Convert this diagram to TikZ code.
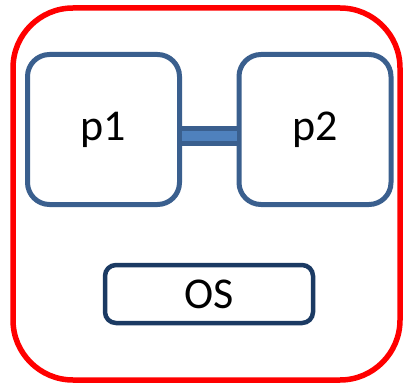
\documentclass[tikz,border=0pt]{standalone}
\usepackage{fontspec}
\setmainfont{Carlito}
\usetikzlibrary{positioning}
\definecolor{procblue}{HTML}{3A5F8E}
\definecolor{linkblue}{HTML}{4F81BD}
\definecolor{osnavy}{HTML}{1B3A63}
\tikzset{
    machine/.style={draw=red, line width=5.5pt, rounded corners=60pt,
        minimum width=387pt, minimum height=372pt},
    proc/.style={draw=procblue, line width=5pt, rounded corners=22pt,
        minimum width=152pt, minimum height=150pt,
        font=\fontsize{44}{50}\selectfont},
    kernel/.style={draw=osnavy, line width=4.5pt, rounded corners=11pt,
        minimum width=208pt, minimum height=58pt,
        font=\fontsize{44}{50}\selectfont},
    link/.style={draw=procblue, line width=5pt, double=linkblue, double distance=10pt}
}

\begin{document}
\begin{tikzpicture}[x=1pt, y=-1pt]
    \useasboundingbox (0,0) rectangle (403,387);
    \node[machine] (sys) at (206.5,194) {};
    \node[proc] (p1) at (103.5,129.5) {p1};
    \node[proc] (p2) at (315,129.5) {p2};
    \node[kernel] (os) at (209,294) {OS};
    % pipe between the two processes, a bit below their middle
    \draw[link] ([yshift=-6.5pt]p1.east) -- ([yshift=-6.5pt]p2.west);
\end{tikzpicture}
\end{document}
